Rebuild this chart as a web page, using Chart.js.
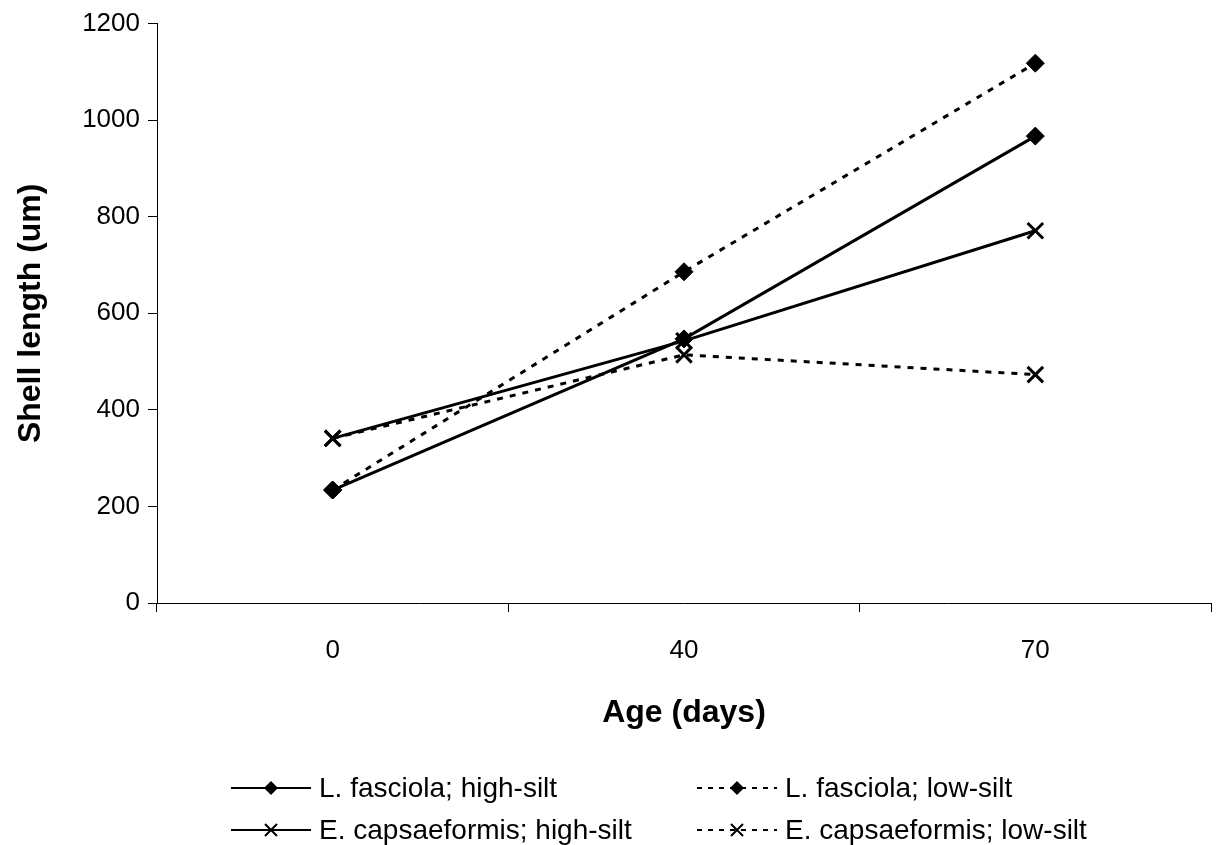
<!DOCTYPE html>
<html>
<head>
<meta charset="utf-8">
<script src="https://cdn.jsdelivr.net/npm/chart.js@4.4.0/dist/chart.umd.min.js"></script>
<style>
  html, body { margin: 0; padding: 0; background: #fff; }
  #wrap { width: 1225px; height: 845px; }
</style>
</head>
<body>
<div id="wrap"><canvas id="c" width="1225" height="845"></canvas></div>
<script>
// categorias (dias) y series
const ageDays = ['0', '40', '70'];
const fasciolaHigh = [234, 547, 967];
const fasciolaLow = [234, 686, 1118];
const capsaeHigh = [341, 543, 771];
const capsaeLow = [341, 514, 473];
const yTicks = [0, 200, 400, 600, 800, 1000, 1200];

const seriesNames = [
  'L. fasciola; high-silt',
  'L. fasciola; low-silt',
  'E. capsaeformis; high-silt',
  'E. capsaeformis; low-silt'
];

const DASH = [6, 7];
const FONT = '"Liberation Sans", Arial, sans-serif';

function makeSet(label, data, dashed, marker) {
  const isDiamond = marker === 'rectRot';
  return {
    label,
    data,
    borderColor: '#000',
    backgroundColor: '#000',
    borderWidth: 3,
    borderDash: dashed ? DASH : [],
    pointStyle: marker,
    pointRadius: isDiamond ? 9 : 11,
    pointBorderWidth: isDiamond ? 1 : 3,
    pointBackgroundColor: '#000',
    pointBorderColor: '#000',
    fill: false,
    tension: 0
  };
}

// leyenda dibujada a mano: linea + marcador + texto, dos columnas
const legendPlugin = {
  id: 'bottomLegend',
  afterDraw(chart) {
    const ctx = chart.ctx;
    const cols = [231, 697];
    const rows = [788, 830];
    const lineLen = 80;
    chart.data.datasets.forEach((ds, i) => {
      const x = cols[i % 2];
      const y = rows[Math.floor(i / 2)];
      ctx.save();
      ctx.strokeStyle = '#000';
      ctx.lineWidth = 2;
      ctx.setLineDash(ds.borderDash.length ? [5, 6] : []);
      ctx.beginPath();
      ctx.moveTo(x, y);
      ctx.lineTo(x + lineLen, y);
      ctx.stroke();
      ctx.setLineDash([]);
      const mx = x + lineLen / 2;
      if (ds.pointStyle === 'rectRot') {
        ctx.fillStyle = '#000';
        ctx.beginPath();
        ctx.moveTo(mx, y - 7);
        ctx.lineTo(mx + 7, y);
        ctx.lineTo(mx, y + 7);
        ctx.lineTo(mx - 7, y);
        ctx.closePath();
        ctx.fill();
      } else {
        ctx.lineWidth = 2;
        ctx.beginPath();
        ctx.moveTo(mx - 6, y - 6); ctx.lineTo(mx + 6, y + 6);
        ctx.moveTo(mx + 6, y - 6); ctx.lineTo(mx - 6, y + 6);
        ctx.stroke();
      }
      ctx.fillStyle = '#000';
      ctx.font = '28px ' + FONT;
      ctx.textBaseline = 'middle';
      ctx.textAlign = 'left';
      ctx.fillText(ds.label, x + lineLen + 8, y + 1);
      ctx.restore();
    });
  }
};

new Chart(document.getElementById('c'), {
  type: 'line',
  data: {
    labels: ageDays,
    datasets: [
      makeSet(seriesNames[0], fasciolaHigh, false, 'rectRot'),
      makeSet(seriesNames[1], fasciolaLow, true, 'rectRot'),
      makeSet(seriesNames[2], capsaeHigh, false, 'crossRot'),
      makeSet(seriesNames[3], capsaeLow, true, 'crossRot')
    ]
  },
  options: {
    responsive: false,
    animation: false,
    layout: { padding: { top: 22, right: 4, bottom: 105, left: 0 } },
    plugins: {
      legend: { display: false },
      tooltip: { enabled: false }
    },
    scales: {
      x: {
        type: 'category',
        offset: true,
        grid: { offset: true, drawOnChartArea: false, drawTicks: true, tickLength: 9, color: '#000', lineWidth: 1 },
        border: { display: true, color: '#000', width: 1 },
        ticks: { color: '#000', padding: 23, font: { family: FONT, size: 26 } },
        title: {
          display: true,
          text: 'Age (days)',
          color: '#000',
          font: { family: FONT, size: 32, weight: 'bold' },
          padding: { top: 0, bottom: 8 }
        },
        afterFit: (scale) => { scale.height = 137; }
      },
      y: {
        min: 0,
        max: 1200,
        afterBuildTicks: (scale) => { scale.ticks = yTicks.map(v => ({ value: v })); },
        grid: { drawOnChartArea: false, drawTicks: true, tickLength: 9, color: '#000', lineWidth: 1 },
        border: { display: true, color: '#000', width: 1 },
        ticks: { color: '#000', padding: 8, font: { family: FONT, size: 26 }, callback: (v) => String(v) },
        title: {
          display: true,
          text: 'Shell length (um)',
          color: '#000',
          font: { family: FONT, size: 32, weight: 'bold' },
          padding: { top: 12, bottom: 0 }
        },
        afterFit: (scale) => { scale.width = 157; }
      }
    }
  },
  plugins: [legendPlugin]
});
</script>
</body>
</html>
